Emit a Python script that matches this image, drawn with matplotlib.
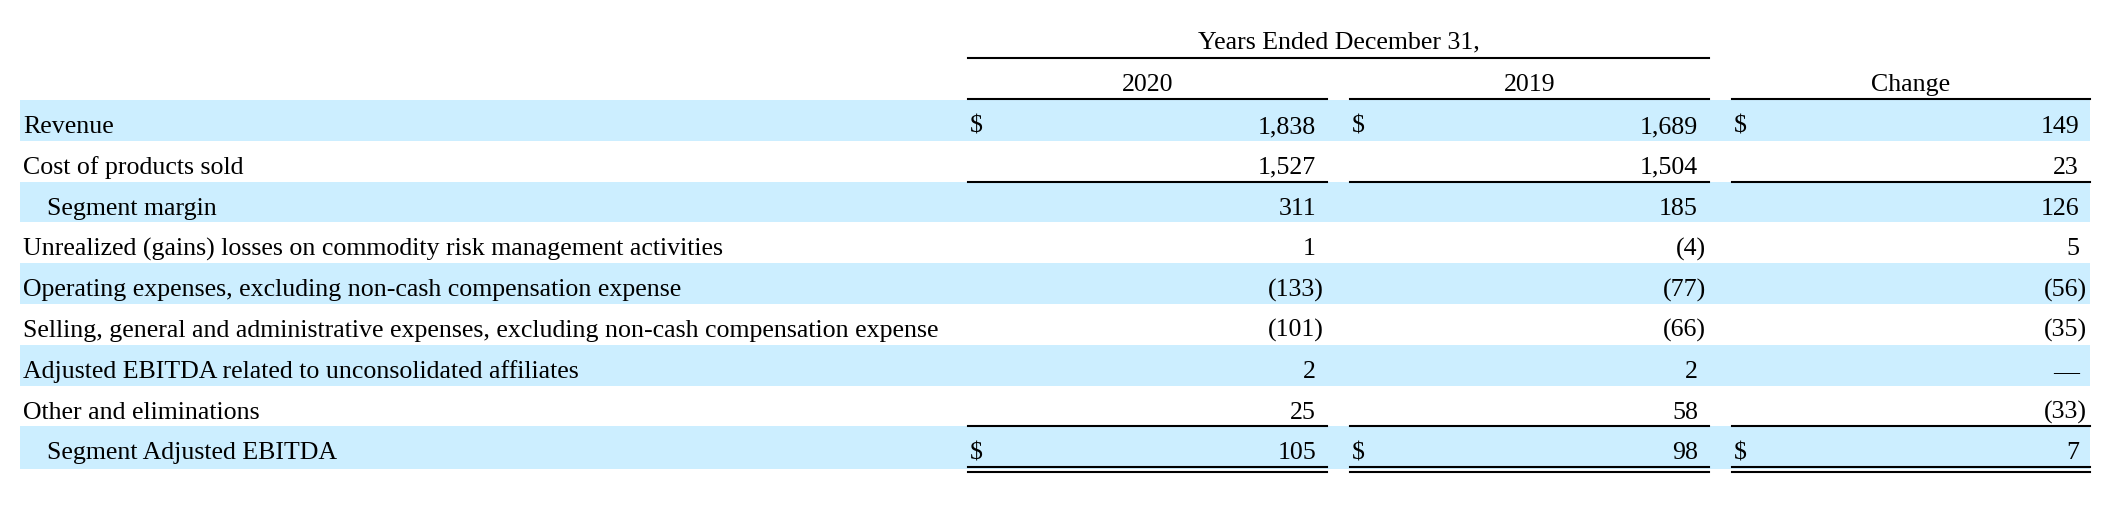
import matplotlib
matplotlib.use("Agg")
import matplotlib.pyplot as plt

labels = [
    "Revenue",
    "Cost of products sold",
    "Segment margin",
    "Unrealized (gains) losses on commodity risk management activities",
    "Operating expenses, excluding non-cash compensation expense",
    "Selling, general and administrative expenses, excluding non-cash compensation expense",
    "Adjusted EBITDA related to unconsolidated affiliates",
    "Other and eliminations",
    "Segment Adjusted EBITDA",
]
indented = [2, 8]
dollar_rows = [0, 8]
col_names = ["2020", "2019", "Change"]
vals_2020 = [1838, 1527, 311, 1, -133, -101, 2, 25, 105]
vals_2019 = [1689, 1504, 185, -4, -77, -66, 2, 58, 98]
vals_change = [149, 23, 126, 5, -56, -35, 0, -33, 7]
header = "Years Ended December 31,"

W, H = 2114, 530
fig = plt.figure(figsize=(W / 100, H / 100), dpi=100)
ax = fig.add_axes([0, 0, 1, 1])
ax.set_xlim(0, W)
ax.set_ylim(H, 0)
ax.axis("off")

plt.rcParams['font.family'] = ['Liberation Serif', 'DejaVu Serif']
fs = 18.6
band = "#cceeff"
lw = 1.5

# row geometry
top0 = 100
rh = 40.8
tops = [top0 + i * rh for i in range(len(labels))]
heights = [rh] * (len(labels) - 1) + [43]

# column spans (left, right)
cols = [(968, 1327), (1350, 1709), (1732, 2090)]
columns = [vals_2020, vals_2019, vals_change]

# shaded bands
for i, t in enumerate(tops):
    if i % 2 == 0:
        ax.axhspan(t, t + heights[i], xmin=20 / W, xmax=2090 / W, color=band, lw=0, zorder=0)

# header
ax.text((cols[0][0] + cols[1][1]) / 2, 48, header, ha="center", va="baseline", fontsize=fs)
ax.plot([cols[0][0], cols[1][1]], [58, 58], color="black", lw=lw)
for (l, r), name in zip(cols, col_names):
    ax.text((l + r) / 2, 91, name, ha="center", va="baseline", fontsize=fs)
    ax.plot([l, r], [99, 99], color="black", lw=lw)

# labels and values
for i, lab in enumerate(labels):
    base = tops[i] + 33
    x0 = 47 if i in indented else 23
    ax.text(x0, base, lab, ha="left", va="baseline", fontsize=fs)
    for (l, r), vals in zip(cols, columns):
        v = vals[i]
        xr = r - 11
        if i in dollar_rows:
            ax.text(l + 2, base, "$", ha="left", va="baseline", fontsize=fs)
        if v == 0:
            ax.text(xr, base, "\u2014", ha="right", va="baseline", fontsize=fs)
        elif v < 0:
            # closing paren hangs past the digit column
            ax.text(xr + 8, base, "({:,})".format(-v), ha="right", va="baseline", fontsize=fs)
        else:
            ax.text(xr, base, "{:,}".format(v), ha="right", va="baseline", fontsize=fs)

# underlines
for l, r in cols:
    ax.plot([l, r], [tops[2], tops[2]], color="black", lw=lw)
    ax.plot([l, r], [tops[8], tops[8]], color="black", lw=lw)
    y2 = tops[8] + heights[8]
    ax.plot([l, r], [y2 - 2, y2 - 2], color="black", lw=lw)
    ax.plot([l, r], [y2 + 3, y2 + 3], color="black", lw=lw)

fig.savefig("out.png", dpi=100)
